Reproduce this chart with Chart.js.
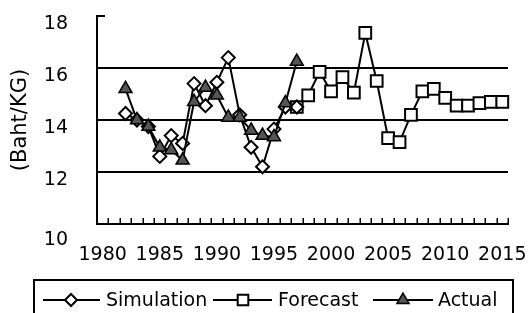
<!DOCTYPE html>
<html><head><meta charset="utf-8">
<script src="https://cdn.jsdelivr.net/npm/chart.js@4/dist/chart.umd.min.js"></script>
<style>html,body{margin:0;padding:0;background:#fff}#wrap{width:528px;height:313px;position:relative}</style>
</head><body><div id="wrap"><canvas id="c" width="528" height="313"></canvas></div>
<script>
const years = [1980,1981,1982,1983,1984,1985,1986,1987,1988,1989,1990,1991,1992,1993,1994,1995,1996,1997,1998,1999,2000,2001,2002,2003,2004,2005,2006,2007,2008,2009,2010,2011,2012,2013,2014,2015];
const simulation = [null,null,14.25,14.0,13.75,12.6,13.4,13.1,15.4,14.55,15.45,16.4,14.2,12.95,12.2,13.65,14.5,14.5,
  null,null,null,null,null,null,null,null,null,null,null,null,null,null,null,null,null,null];
const forecast = [null,null,null,null,null,null,null,null,null,null,null,null,null,null,null,null,null,
  14.5,14.95,15.85,15.1,15.65,15.05,17.35,15.5,13.3,13.15,14.2,15.1,15.2,14.85,14.55,14.55,14.65,14.7,14.7];
const actual = [null,null,15.2,14.0,13.75,12.95,12.85,12.45,14.7,15.25,14.95,14.1,14.1,13.6,13.4,13.35,14.65,16.25,
  null,null,null,null,null,null,null,null,null,null,null,null,null,null,null,null,null,null];
const xTickLabels = ['1980','1985','1990','1995','2000','2005','2010','2015'];
const yTickValues = [10,12,14,16,18];
const seriesNames = ['Simulation','Forecast','Actual'];
const yTitle = '(Baht/KG)';

const FONT = 'DejaVu Sans';
const FS = 19;

const extras = {
  id: 'extras',
  afterDraw(chart) {
    const ctx = chart.ctx;
    const xs = chart.scales.x, ys = chart.scales.y;
    ctx.save();
    ctx.strokeStyle = '#000';
    ctx.lineWidth = 1.5;
    const step = xs.getPixelForValue(1) - xs.getPixelForValue(0);
    for (let i = 1; i <= years.length; i++) {
      const x = Math.round(xs.getPixelForValue(i) - step / 2) + 0.25;
      ctx.beginPath();
      ctx.moveTo(x, ys.bottom);
      ctx.lineTo(x, ys.bottom - 6);
      ctx.stroke();
    }
    ctx.lineWidth = 2;
    const yTop = ys.getPixelForValue(yTickValues[yTickValues.length - 1]);
    ctx.beginPath();
    ctx.moveTo(xs.left, yTop);
    ctx.lineTo(xs.left + 8, yTop);
    ctx.stroke();

    // legend
    ctx.lineWidth = 2;
    ctx.strokeRect(34, 280, 479, 45);
    const items = [
      {l: 43, r: 100, m: 71, t: 106},
      {l: 213, r: 272, m: 243, t: 278},
      {l: 373, r: 433, m: 403, t: 438}
    ];
    const ly = 300;
    ctx.font = FS + 'px "' + FONT + '"';
    ctx.textBaseline = 'middle';
    ctx.textAlign = 'left';
    items.forEach((it, i) => {
      const ds = chart.data.datasets[i];
      ctx.lineWidth = 2;
      ctx.strokeStyle = '#000';
      ctx.beginPath();
      ctx.moveTo(it.l, ly);
      ctx.lineTo(it.r, ly);
      ctx.stroke();
      ctx.fillStyle = ds.pointBackgroundColor;
      ctx.strokeStyle = ds.pointBorderColor;
      ctx.lineWidth = ds.pointBorderWidth;
      Chart.helpers.drawPoint(ctx, {pointStyle: ds.pointStyle, radius: ds.legendRadius, borderWidth: ds.pointBorderWidth, rotation: 0}, it.m, ly);
      ctx.fillStyle = '#000';
      ctx.fillText(seriesNames[i], it.t, ly + 1);
    });
    ctx.restore();
  }
};

new Chart(document.getElementById('c'), {
  type: 'line',
  data: {
    labels: years.map(String),
    datasets: [
      {label: seriesNames[0], data: simulation, borderColor: '#000', borderWidth: 2, pointStyle: 'rectRot', pointRadius: 6.5, legendRadius: 6,
       pointBackgroundColor: '#fff', pointBorderColor: '#000', pointBorderWidth: 2, order: 2},
      {label: seriesNames[1], data: forecast, borderColor: '#000', borderWidth: 2, pointStyle: 'rect', pointRadius: 8.3, legendRadius: 7.5,
       pointBackgroundColor: '#fff', pointBorderColor: '#000', pointBorderWidth: 2, order: 3},
      {label: seriesNames[2], data: actual, borderColor: '#000', borderWidth: 2, pointStyle: 'triangle', pointRadius: 7.5, legendRadius: 7,
       pointBackgroundColor: '#555', pointBorderColor: '#000', pointBorderWidth: 1.5, order: 1}
    ]
  },
  options: {
    animation: false, responsive: false, devicePixelRatio: 1,
    layout: {padding: {left: 0, right: 20, top: 16, bottom: 43}},
    plugins: {legend: {display: false}, tooltip: {enabled: false}},
    elements: {line: {tension: 0}},
    scales: {
      x: {
        type: 'category', offset: true,
        grid: {display: false},
        border: {display: true, color: '#000', width: 2},
        ticks: {autoSkip: false, maxRotation: 0, minRotation: 0, padding: 12, color: '#000',
          font: {family: FONT, size: FS},
          callback: function(v, i) { const s = String(years[i]); return xTickLabels.includes(s) ? s : ''; }},
        afterFit(s) { s.height = 46; s.paddingLeft = 0; s.paddingRight = 0; s.paddingTop = 0; s.paddingBottom = 0; }
      },
      y: {
        min: 10, max: 18,
        afterBuildTicks(s) { s.ticks = yTickValues.map(v => ({value: v})); },
        grid: {drawTicks: false, lineWidth: 2,
          color: c => (c.tick && c.tick.value === 18) ? 'rgba(0,0,0,0)' : '#000'},
        border: {display: true, color: '#000', width: 2},
        ticks: {padding: 29, color: '#000', font: {family: FONT, size: FS, lineHeight: 0.84},
          callback: v => v === 10 ? ['', '', String(v)] : ['', String(v)]},
        title: {display: true, text: yTitle, color: '#000', font: {family: FONT, size: 21}, padding: {top: 8, bottom: 0}},
        afterFit(s) { s.width = 97; s.paddingLeft = 0; s.paddingRight = 0; s.paddingTop = 0; s.paddingBottom = 0; }
      }
    }
  },
  plugins: [extras]
});
</script>
</body></html>
